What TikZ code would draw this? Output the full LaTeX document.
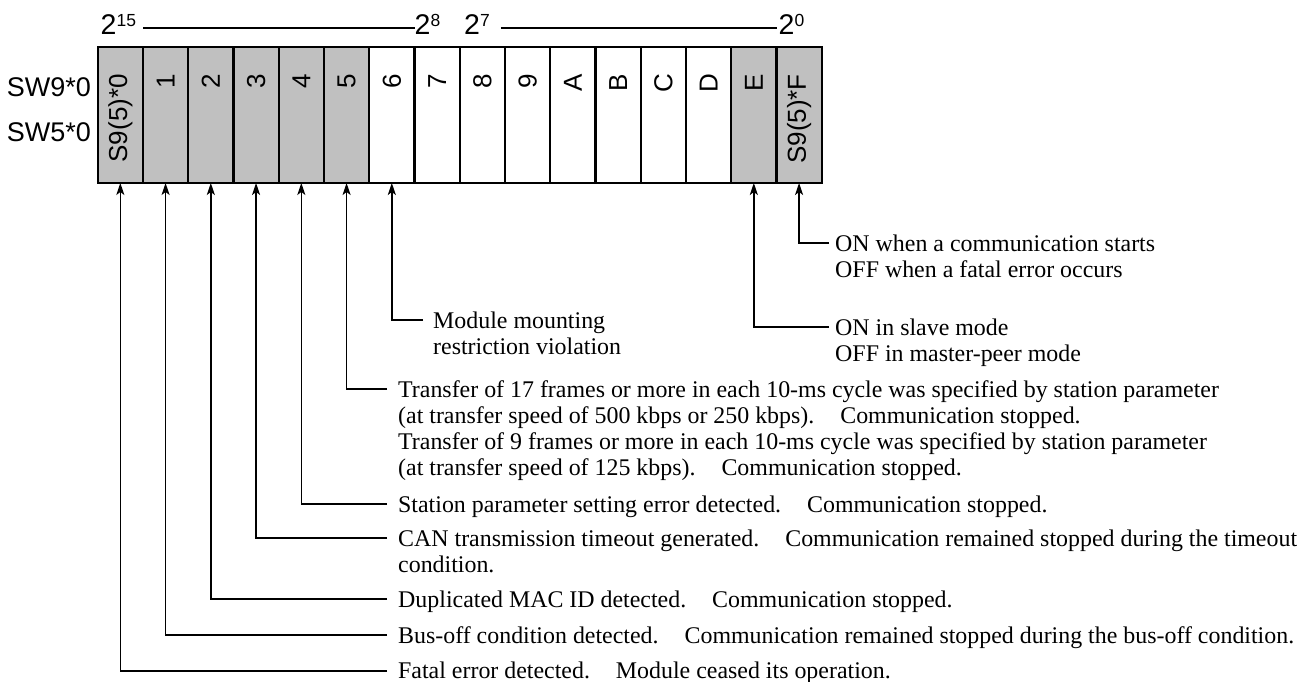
\documentclass[tikz,border=0pt]{standalone}
\usepackage{fontspec}
\setmainfont{Liberation Serif}
\setsansfont{Liberation Sans}
\usetikzlibrary{arrows.meta,calc}
\definecolor{regGray}{HTML}{C0C0C0}
\newcommand{\descgap}{\hspace{26pt}}
\newcommand{\supnum}[1]{\raisebox{8pt}{\fontsize{17.5}{17.5}\selectfont #1}}
\begin{document}
\begin{tikzpicture}[x=1pt,y=-1pt,
  cellbox/.style={draw, line width=2.4pt, minimum width=45.25pt, minimum height=136pt,
    inner sep=0pt, outer sep=0pt, anchor=north west},
  onbit/.style={fill=regGray},
  celllbl/.style={font=\fontsize{26}{26}\sffamily\selectfont, rotate=90, anchor=east, inner sep=0pt},
  toplbl/.style={font=\fontsize{28.5}{28.5}\sffamily\selectfont, inner sep=0pt, anchor=base west},
  swlbl/.style={font=\fontsize{27}{27}\sffamily\selectfont, inner sep=0pt, anchor=base east},
  rangeline/.style={line width=1.3pt},
  conn/.style={line width=1.5pt, -{Stealth[length=12pt,width=8pt,inset=3pt]}},
  desc/.style={font=\fontsize{23.9}{26}\selectfont, align=left, anchor=base west, inner sep=0pt}]
\useasboundingbox (0,0) rectangle (1312,682);

% register cells
\foreach \i/\lab/\st in {0/S9(5)*0/onbit,1/1/onbit,2/2/onbit,3/3/onbit,4/4/onbit,5/5/onbit,
  6/6/,7/7/,8/8/,9/9/,10/A/,11/B/,12/C/,13/D/,14/E/onbit,15/S9(5)*F/onbit}{
  \node[cellbox,\st] (c\i) at (97.7+45.25*\i,47) {};
  \node[celllbl] (l\i) at ($(c\i.north)+(0,27)$) {\lab};
}

% bit weight labels
\node[toplbl] (p15) at (100.5,35) {2\supnum{15}};
\node[toplbl] (p8) at (414.5,35) {2\supnum{8}};
\node[toplbl] (p7) at (464,35) {2\supnum{7}};
\node[toplbl] (p0) at (778.5,35) {2\supnum{0}};
\draw[rangeline] ($(p15.base east)+(7,-7)$) -- ($(p8.base west)+(0,-7)$);
\draw[rangeline] ($(p7.base east)+(11,-7)$) -- ($(p0.base west)+(-2,-7)$);

% register names
\node[swlbl] (sw9) at (91,96.7) {SW9*0};
\node[swlbl] (sw5) at (91,141.7) {SW5*0};

% connector end points
\coordinate (eF) at (829,243);
\coordinate (eE) at (829,327);
\coordinate (e6) at (423,320);
\coordinate (e5) at (387,389);
\coordinate (e4) at (387,504);
\coordinate (e3) at (387,538);
\coordinate (e2) at (387,599);
\coordinate (e1) at (387,635);
\coordinate (e0) at (387,671);

% descriptions (base anchor = baseline of the last line)
\node[desc] (tF) at (835,277) {ON when a communication starts\\OFF when a fatal error occurs};
\node[desc] (tE) at (835,361) {ON in slave mode\\OFF in master-peer mode};
\node[desc] (t6) at (433,354) {Module mounting\\restriction violation};
\node[desc] (t5) at (398,475) {Transfer of 17 frames or more in each 10-ms cycle was specified by station parameter\\(at transfer speed of 500 kbps or 250 kbps).\descgap Communication stopped.\\Transfer of 9 frames or more in each 10-ms cycle was specified by station parameter\\(at transfer speed of 125 kbps).\descgap Communication stopped.};
\node[desc] (t4) at (398,512) {Station parameter setting error detected.\descgap Communication stopped.};
\node[desc] (t3) at (398,572) {CAN transmission timeout generated.\descgap Communication remained stopped during the timeout\\condition.};
\node[desc] (t2) at (398,607) {Duplicated MAC ID detected.\descgap Communication stopped.};
\node[desc] (t1) at (398,643) {Bus-off condition detected.\descgap Communication remained stopped during the bus-off condition.};
\node[desc] (t0) at (398,678.5) {Fatal error detected.\descgap Module ceased its operation.};

% connectors
\draw[conn] (eF) -| (c15.south);
\draw[conn] (eE) -| (c14.south);
\draw[conn] (e6) -| (c6.south);
\draw[conn] (e5) -| (c5.south);
\draw[conn] (e4) -| (c4.south);
\draw[conn] (e3) -| (c3.south);
\draw[conn] (e2) -| (c2.south);
\draw[conn] (e1) -| (c1.south);
\draw[conn] (e0) -| (c0.south);
\end{tikzpicture}
\end{document}
